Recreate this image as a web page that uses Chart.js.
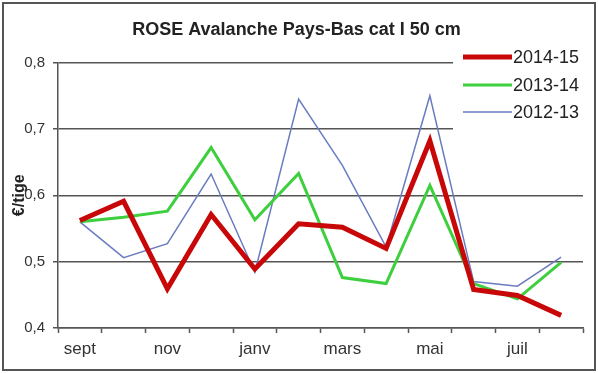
<!DOCTYPE html>
<html>
<head>
<meta charset="utf-8">
<script src="https://cdn.jsdelivr.net/npm/chart.js@4/dist/chart.umd.min.js"></script>
<style>
  html, body { margin: 0; padding: 0; background: #fff; }
  #wrap { width: 598px; height: 373px; }
</style>
</head>
<body>
<div id="wrap"><canvas id="priceChart" width="598" height="373"></canvas></div>
<script>
const months = ['sept', 'oct', 'nov', 'déc', 'janv', 'févr', 'mars', 'avr', 'mai', 'juin', 'juil', 'août'];
const season1415 = [0.562, 0.591, 0.459, 0.571, 0.489, 0.557, 0.552, 0.520, 0.682, 0.458, 0.449, 0.419];
const season1314 = [0.560, 0.567, 0.576, 0.672, 0.563, 0.633, 0.476, 0.467, 0.615, 0.467, 0.444, 0.499];
const season1213 = [0.560, 0.506, 0.527, 0.632, 0.484, 0.745, 0.645, 0.522, 0.750, 0.470, 0.463, 0.507];
const yTicks = [0.4, 0.5, 0.6, 0.7, 0.8];

const FONT = '"Liberation Sans", Arial, sans-serif';

// legend drawn on a white box inside the plot, top right
const sideLegend = {
  id: 'sideLegend',
  beforeDatasetsDraw(chart) {
    const { ctx, chartArea } = chart;
    ctx.save();
    ctx.fillStyle = '#fff';
    ctx.fillRect(453, 42, chartArea.right - 453 + 2, 98);
    const rows = [57, 85, 112];
    ctx.font = '18px ' + FONT;
    ctx.textBaseline = 'middle';
    chart.data.datasets.forEach((ds, i) => {
      const y = rows[i];
      ctx.strokeStyle = ds.borderColor;
      ctx.lineWidth = ds.borderWidth;
      ctx.beginPath();
      ctx.moveTo(463, y);
      ctx.lineTo(512, y);
      ctx.stroke();
      ctx.fillStyle = '#222';
      ctx.fillText(ds.label, 513, y + 1);
    });
    ctx.restore();
  },
  afterDraw(chart) {
    const { ctx } = chart;
    ctx.save();
    ctx.strokeStyle = '#555';
    ctx.lineWidth = 2;
    ctx.strokeRect(3, 3, 592, 367);
    ctx.restore();
  }
};

new Chart(document.getElementById('priceChart'), {
  type: 'line',
  data: {
    labels: months,
    datasets: [
      { label: '2014-15', data: season1415, borderColor: '#c80808', borderWidth: 5 },
      { label: '2013-14', data: season1314, borderColor: '#3dcf3d', borderWidth: 3 },
      { label: '2012-13', data: season1213, borderColor: '#6a7cc0', borderWidth: 1.5 }
    ]
  },
  options: {
    responsive: false,
    animation: false,
    layout: { padding: { top: 12, left: 10, right: 15, bottom: 0 } },
    elements: {
      point: { radius: 0 },
      line: { tension: 0, borderJoinStyle: 'miter', borderCapStyle: 'butt' }
    },
    plugins: {
      legend: { display: false },
      tooltip: { enabled: false },
      title: {
        display: true,
        text: 'ROSE Avalanche Pays-Bas cat I 50 cm',
        color: '#222',
        font: { family: FONT, size: 18, weight: 'bold' },
        padding: { top: 7, bottom: 22 }
      }
    },
    scales: {
      x: {
        offset: true,
        afterFit: s => { s.height = 45; },
        grid: { offset: true, drawOnChartArea: false, drawTicks: true, tickLength: 5, tickColor: '#555', tickWidth: 1.5 },
        border: { color: '#555', width: 1.5 },
        ticks: {
          autoSkip: false,
          maxRotation: 0,
          padding: 6,
          color: '#333',
          font: { family: FONT, size: 17 },
          callback: (v, i) => (i % 2 === 0 ? months[i] : '')
        }
      },
      y: {
        min: 0.4,
        max: 0.8,
        afterFit: s => { s.width = 48; },
        afterBuildTicks: s => { s.ticks = yTicks.map(v => ({ value: v })); },
        grid: { color: '#555', lineWidth: 1.5, tickLength: 5, tickColor: '#555' },
        border: { color: '#555', width: 1.5 },
        title: {
          display: true,
          text: '€/tige',
          color: '#222',
          font: { family: FONT, size: 16, weight: 'bold' },
          padding: { top: 0, bottom: 0 }
        },
        ticks: {
          padding: 8,
          color: '#333',
          font: { family: FONT, size: 15 },
          callback: v => v.toFixed(1).replace('.', ',')
        }
      }
    }
  },
  plugins: [sideLegend]
});
</script>
</body>
</html>
